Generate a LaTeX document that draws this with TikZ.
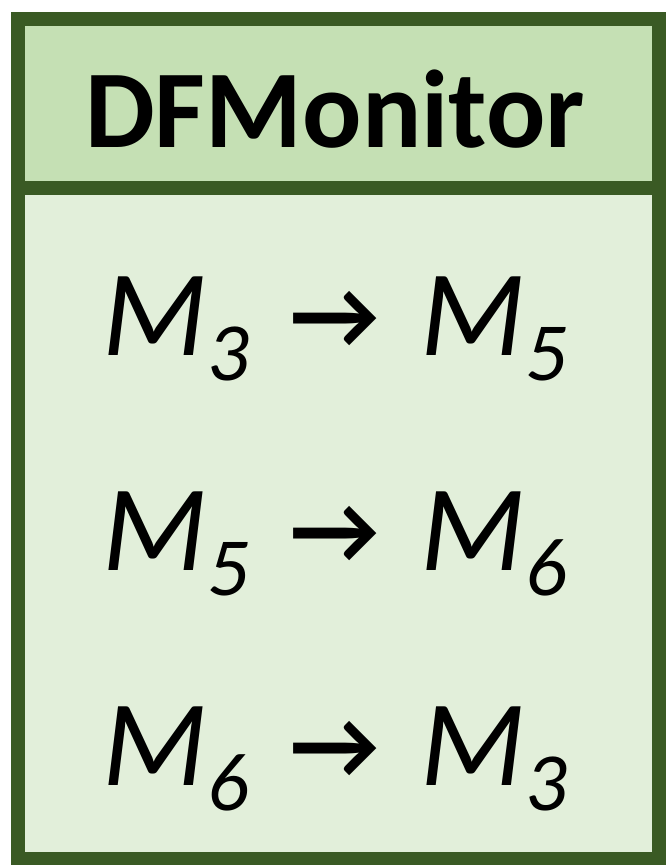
\documentclass[tikz,border=0pt]{standalone}
\usepackage{fontspec}
\setmainfont{Carlito}
\usetikzlibrary{positioning}

\definecolor{monframe}{HTML}{3A5A24}
\definecolor{monhead}{HTML}{C5E0B4}
\definecolor{monbody}{HTML}{E2EFDA}

\newcommand{\mmod}[1]{\textit{M\raisebox{-19pt}{\fontsize{62}{62}\selectfont #1}}}
\newcommand{\flowto}{\hspace{31pt}\raisebox{5pt}{\scalebox{0.8}{\bfseries →}}\hspace{31pt}}

\begin{document}
\begin{tikzpicture}[
  x=0.75pt, y=-0.75pt,
  frame/.style={draw=monframe, line width=10.5pt},
  title/.style={font=\fontsize{83}{83}\selectfont\bfseries, inner sep=0pt, anchor=base},
  edge/.style={font=\fontsize{92}{92}\selectfont, inner sep=0pt, anchor=base}
]
\useasboundingbox (0,0) rectangle (666,865);

\fill[monhead] (18,19) rectangle (659,188);
\fill[monbody] (18,188) rectangle (659,859);
\draw[frame] (18,19) rectangle (659,859);
\draw[frame] (18,188) -- (659,188);

\node[title] (name) at (335,147) {DFMonitor};

\node[edge] (e35) at (335,355) {\mmod{3}\flowto\mmod{5}};
\node[edge] (e56) at (335,570) {\mmod{5}\flowto\mmod{6}};
\node[edge] (e63) at (335,785) {\mmod{6}\flowto\mmod{3}};

\end{tikzpicture}
\end{document}
